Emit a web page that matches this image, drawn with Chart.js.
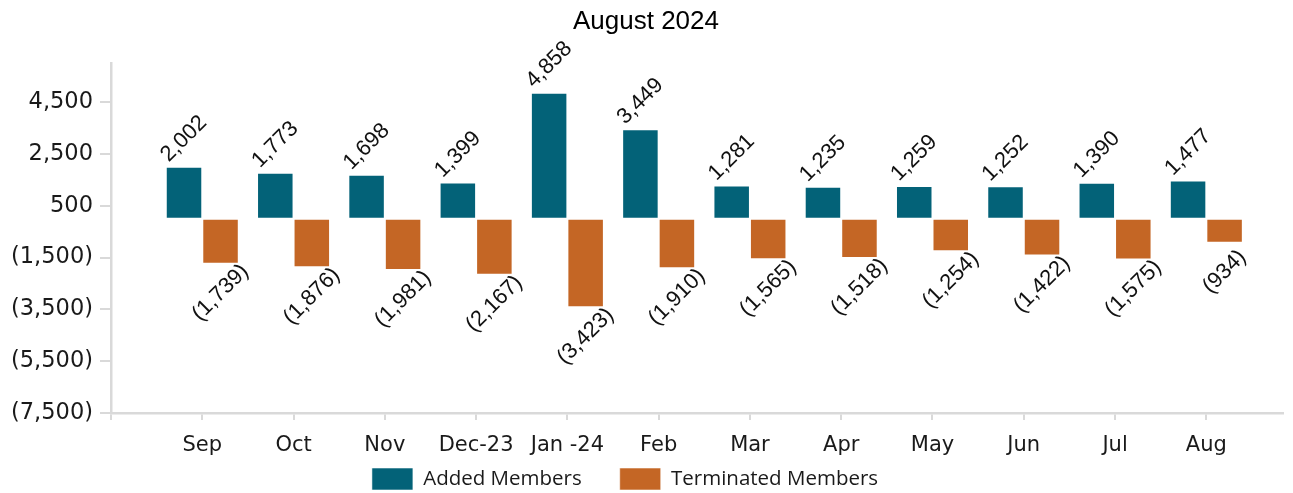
<!DOCTYPE html>
<html>
<head>
<meta charset="utf-8">
<title>August 2024</title>
<script src="https://cdn.jsdelivr.net/npm/chart.js@4"></script>
<style>
  html, body { margin: 0; padding: 0; background: #fff; }
  #wrap { width: 1293px; height: 493px; }
</style>
</head>
<body>
<div id="wrap"><canvas id="chart1"></canvas></div>
<script>
"use strict"

// months shown on the x axis
const categories = ['Sep', 'Oct', 'Nov', 'Dec-23', 'Jan -24', 'Feb', 'Mar', 'Apr', 'May', 'Jun', 'Jul', 'Aug']
const addedMembers = [2002, 1773, 1698, 1399, 4858, 3449, 1281, 1235, 1259, 1252, 1390, 1477]
const terminatedMembers = [-1739, -1876, -1981, -2167, -3423, -1910, -1565, -1518, -1254, -1422, -1575, -934]
const yTickValues = [-7500, -5500, -3500, -1500, 500, 2500, 4500]

const TEAL = '#036278'
const ORANGE = '#c46625'

// accounting style: negatives in brackets
function fmt(v) {
    let s = Math.abs(v).toLocaleString('en-US')
    return v < 0 ? '(' + s + ')' : s
}

// rotated value labels over / under each bar
const barLabels = {
    id: 'barLabels',
    afterDatasetsDraw(chart) {
        const ctx = chart.ctx
        ctx.save()
        ctx.font = '22px "Liberation Sans", Arial, sans-serif'
        ctx.fillStyle = '#111'
        ctx.textAlign = 'center'
        ctx.textBaseline = 'middle'
        chart.data.datasets.forEach((ds, di) => {
            const meta = chart.getDatasetMeta(di)
            meta.data.forEach((bar, i) => {
                const v = ds.data[i].y
                const y = v >= 0 ? bar.y - 28 : bar.y + 29
                ctx.save()
                ctx.translate(bar.x, y)
                ctx.rotate(-Math.PI / 4)
                ctx.fillText(fmt(v), 0, 0)
                ctx.restore()
            })
        })
        ctx.restore()
    }
}

// legend sits a bit left of centre and close under the month names
const legendShift = {
    id: 'legendShift',
    afterLayout(chart) {
        const lg = chart.legend
        lg.left -= 21
        lg.right -= 21
        lg.top -= 27
        lg.bottom -= 27
    }
}

const ctx = document.getElementById('chart1')

new Chart(ctx, {
    type: 'bar',
    data: {
        datasets: [{
            label: 'Added Members',
            data: addedMembers.map((v, i) => ({x: i, y: v})),
            backgroundColor: TEAL,
            borderColor: 'rgba(255,255,255,0.55)',
            borderWidth: 1,
            borderSkipped: false
        }, {
            label: 'Terminated Members',
            data: terminatedMembers.map((v, i) => ({x: i, y: v})),
            backgroundColor: ORANGE,
            borderColor: 'rgba(255,255,255,0.55)',
            borderWidth: 1,
            borderSkipped: false
        }]
    },
    plugins: [barLabels, legendShift],
    options: {
        responsive: true,
        maintainAspectRatio: false,
        animation: false,
        categoryPercentage: 0.8,
        barPercentage: 1.0,
        layout: { padding: { left: 9, right: 10, top: 0, bottom: -34 } },
        plugins: {
            title: {
                display: true,
                text: 'August 2024',
                color: '#000',
                font: { family: '"Liberation Sans", Arial, sans-serif', size: 26, weight: 'normal' },
                padding: { top: 6, bottom: 26 }
            },
            legend: {
                position: 'bottom',
                labels: {
                    color: '#1a1a1a',
                    boxWidth: 41,
                    boxHeight: 22,
                    padding: 38,
                    font: { family: '"Open Sans", sans-serif', size: 20.5 }
                }
            },
            tooltip: { enabled: false }
        },
        scales: {
            x: {
                type: 'linear',
                min: -1,
                max: 11.84,
                offset: false,
                afterFit: s => { s.height = 44 },
                grid: { drawOnChartArea: false, offset: false, color: '#d9d9d9', lineWidth: 2, tickLength: 7 },
                border: { color: '#d9d9d9', width: 2.5 },
                ticks: {
                    stepSize: 1,
                    includeBounds: false,
                    autoSkip: false,
                    maxRotation: 0,
                    padding: 13,
                    color: '#1a1a1a',
                    font: { family: '"DejaVu Sans", sans-serif', size: 21, lineHeight: 1.2 },
                    callback: v => categories[Math.round(v)] ?? ''
                }
            },
            y: {
                min: -7500,
                max: 6000,
                afterBuildTicks: s => { s.ticks = yTickValues.map(v => ({value: v})) },
                afterFit: s => { s.width = 102 },
                grid: { drawOnChartArea: false, color: '#d9d9d9', lineWidth: 2, tickLength: 11 },
                border: { color: '#d9d9d9', width: 2.5 },
                ticks: {
                    autoSkip: false,
                    padding: 7,
                    color: '#1a1a1a',
                    font: { family: '"DejaVu Sans", sans-serif', size: 22.5 },
                    callback: v => fmt(v)
                }
            }
        }
    }
})
</script>
</body>
</html>
